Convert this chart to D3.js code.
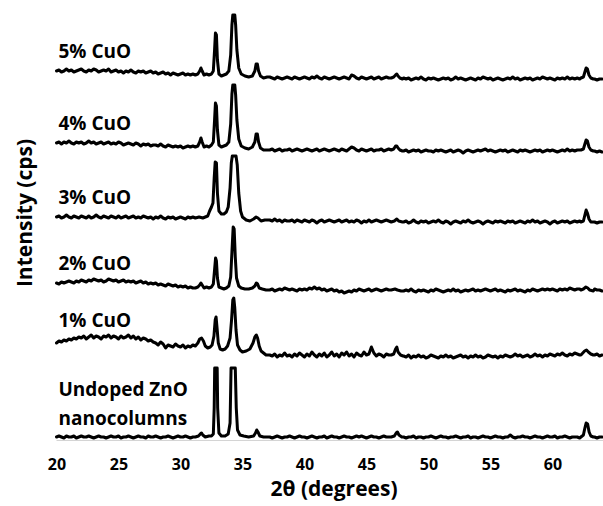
<!DOCTYPE html>
<html>
<head>
<meta charset="utf-8">
<script src="https://cdn.jsdelivr.net/npm/d3@7/dist/d3.min.js"></script>
<style>
  html, body { margin: 0; padding: 0; background: #fff; }
  svg { display: block; }
  text { font-family: "Open Sans", "Noto Sans", sans-serif; font-weight: 700; fill: #000; }
</style>
</head>
<body>
<div id="chart"></div>
<script>
// ---- Data -------------------------------------------------------------
// XRD scans of ZnO nanocolumns with increasing CuO content.
// Counts are in arbitrary units relative to each scan's own baseline;
// the scans are stacked vertically by an offset.

const sampleNames = ["Undoped ZnO|nanocolumns", "1% CuO", "2% CuO", "3% CuO", "4% CuO", "5% CuO"];
const stackOffsets = [2, 82, 148, 217, 288, 360];

// Background counts, recorded in segments at a 0.2° step: [start 2θ, counts]
const scanStep = 0.2;

const bgUndoped = [
  [20.0, [1,2,1,0,2,1,1,2,0,1, 2,1,1,2,1,0,1,2,1,1, 0,1,2,1,1,2,0,1,1,2, 1,0,1,2,1,1,0,2,1,1, 2,1,0,1,1,2,1,0,1,2, 1,1,2,1,0,1]],
  [37.2, [1,0,1,2,1,0,1,1,2,1, 0,1,2,1,1,0,1,2,1,0, 1,1,2,0,1,2,1,1,0,1, 2,1,1,0,1,2,1,2,1,0, 1,2,1,1,0,1,2,1,1]],
  [48.0, [1,0,1,1,2,0,1,1,0,1, 1,2,1,0,1,2,1,1,0,1, 1,2,1,0,1,1,2,0,1,1, 0,1,2,1,1,0,1,2,1,1, 0,1,1,3,1,0,1,1,2,1, 1,0,1,2,1,1,0,1,2,1, 1,2,0,1,1,2,1,0,1,1, 1,0]],
  [63.4, [1,0,1,1]]
];
const bgCu1 = [
  [20.0, [15,17,16,18,17,19,18,20,19,21, 20,22,19,21,23,20,22,21,19,22, 21,23,20,22,21,19,22,20,21,23, 20,22,19,21,18,20,19,17,18,16, 15,13,16,14,10,13,12,11,14,12, 11,13,10,12,11,13]],
  [37.2, [3,2,4,1,3,2,5,2,3,1, 4,2,5,3,1,4,2,6,3,1, 4,2,5,1,3,6,2,4,1,5, 3,6,2,4,1,5,3,2,6,3, 4,11,5,2,4,3,1,4,3]],
  [48.0, [2,1,3,0,2,1,3,1,2,0, 1,3,2,1,0,2,1,3,1,2, 0,1,2,3,1,2,0,2,1,3, 1,2,0,1,3,2,1,2,0,2, 1,3,2,1,2,4,2,3,1,2, 3,1,2,4,2,3,1,3,2,4, 3,2,4,3,5,3,2,4,3,5, 4,3]],
  [63.4, [3,4,2,3]]
];
const bgCu2 = [
  [20.0, [9,8,10,9,10,11,10,9,11,10, 12,11,10,12,11,13,12,11,12,10, 11,13,12,11,12,10,11,12,10,11, 10,11,9,10,11,9,10,8,9,8, 9,7,8,7,6,8,7,6,7,5, 6,5,6,4,5,4]],
  [37.2, [2,3,1,2,3,2,4,3,2,3, 2,1,3,2,3,2,4,3,5,3, 4,2,3,1,2,3,1,2,0,1, -1,0,1,0,2,1,3,2,1,2, 3,1,2,3,2,1,2,3,2]],
  [48.0, [1,2,1,3,1,0,2,1,2,1, 0,2,1,3,2,1,0,1,2,1, 3,1,2,0,1,2,1,2,3,1, 2,1,2,3,2,1,2,3,1,2, 1,0,2,1,2,3,1,2,1,0, 2,1,3,2,1,2,3,2,3,2, 3,2,1,3,2,3,2,4,3,2, 3,3]],
  [63.4, [3,2,2,1]]
];
const bgCu3 = [
  [20.0, [6,7,5,6,8,6,5,7,6,5, 7,6,5,7,5,6,8,6,5,7, 6,5,7,6,5,7,5,6,7,5, 6,7,5,6,5,7,6,5,6,4, 6,5,7,5,4,6,5,6,4,5, 6,5,4,6,5,6]],
  [37.2, [3,2,4,2,3,1,3,2,2,3, 1,3,2,1,3,2,1,3,2,0, 2,3,1,2,3,2,1,2,3,1, 2,3,1,2,1,3,2,0,2,1, 3,1,2,3,2,1,2,3,2]],
  [48.0, [1,2,0,1,3,1,0,2,1,2, 0,1,2,1,3,1,0,2,1,-1, 1,2,1,0,2,1,3,1,0,1, 2,1,-1,1,2,1,0,2,1,2, 1,0,2,1,2,0,1,2,1,0, 2,1,3,1,2,0,1,2,1,-1, 1,2,0,1,2,1,2,0,1,2, 1,2]],
  [63.4, [1,0,1,1]]
];
const bgCu4 = [
  [20.0, [9,10,8,10,9,11,9,8,10,9, 10,8,9,11,9,10,8,9,10,8, 9,10,8,9,8,10,9,7,8,9, 8,7,9,8,6,8,7,8,6,7, 7,6,8,6,5,7,6,5,6,5, 6,4,5,6,5,6]],
  [37.2, [2,3,1,2,3,1,2,2,3,1, 2,3,2,1,2,3,2,1,2,3, 1,2,3,2,1,2,3,2,1,3, 2,1,3,5,4,2,1,3,2,1, 2,3,1,2,2,3,1,2,3]],
  [48.0, [1,2,0,1,2,1,2,0,1,2, 1,1,0,2,1,2,1,0,1,2, 0,1,2,1,-1,1,2,1,0,1, 2,1,2,3,1,2,1,0,1,2, 1,2,0,1,2,1,0,2,1,2, 1,0,1,2,1,2,0,1,2,1, 2,1,0,1,2,1,3,1,2,1, 2,2]],
  [63.4, [1,0,1,0]]
];
const bgCu5 = [
  [20.0, [9,10,8,9,11,9,10,8,9,10, 11,9,8,10,9,11,10,8,9,10, 9,11,8,9,10,8,9,7,9,8, 10,8,7,9,8,9,7,8,9,7, 8,6,7,8,6,7,5,7,6,5, 6,7,5,6,5,6]],
  [37.2, [3,2,1,3,2,1,2,3,2,1, 3,2,1,2,3,2,1,3,2,4, 2,1,3,2,1,2,3,2,1,2, 3,2,1,5,4,2,1,3,2,1, 2,3,1,2,3,1,2,3,2]],
  [48.0, [2,1,2,0,1,2,1,3,1,0, 2,1,2,1,0,1,2,1,2,0, 1,3,1,2,1,0,1,2,1,0, 2,1,3,2,1,2,0,1,2,1, 0,1,2,1,3,1,2,0,1,2, 1,2,0,1,2,1,3,2,1,2, 1,0,2,1,2,1,3,1,2,1, 2,1]],
  [63.4, [1,0,1,1]]
];

// Finely sampled reflection profiles: [2θ, counts]
const peaksUndoped = [
  [[31.2,1],[31.45,2],[31.6,4],[31.7,5],[31.8,3],[32.0,1],[32.3,2],[32.5,2],[32.65,4],[32.72,30],[32.76,70],[32.96,70],[33.0,30],[33.1,5],[33.3,2],[33.6,2],[33.85,4],[34.0,15],[34.08,70],[34.42,70],[34.5,30],[34.6,8],[34.8,3],[35.1,2],[35.5,1],[35.9,2],[36.05,5],[36.15,8],[36.25,6],[36.4,2],[36.7,1],[37.0,1]],
  [[47.0,1],[47.25,2],[47.4,5],[47.5,6],[47.62,3],[47.85,1]],
  [[62.3,1],[62.5,3],[62.62,10],[62.72,15],[62.84,14],[62.96,6],[63.1,2],[63.3,1]]
];
const peaksCu1 = [
  [[31.2,12],[31.4,15],[31.55,19],[31.7,20],[31.85,17],[32.0,12],[32.2,10],[32.4,11],[32.55,13],[32.7,22],[32.8,38],[32.87,41],[32.95,30],[33.05,15],[33.2,9],[33.4,8],[33.6,9],[33.8,12],[34.0,20],[34.12,38],[34.22,58],[34.3,60],[34.38,50],[34.48,28],[34.6,13],[34.8,8],[35.0,6],[35.3,7],[35.6,9],[35.85,15],[36.0,21],[36.12,23],[36.22,20],[36.35,12],[36.5,7],[36.7,5],[36.9,3]],
  [[47.0,3],[47.2,4],[47.35,9],[47.45,11],[47.55,6],[47.75,3],[47.95,2]],
  [[62.3,3],[62.45,5],[62.6,7],[62.75,8],[62.9,6],[63.1,4],[63.3,3]]
];
const peaksCu2 = [
  [[31.2,4],[31.4,5],[31.55,7],[31.65,9],[31.75,7],[31.9,4],[32.1,5],[32.3,4],[32.5,5],[32.65,8],[32.75,22],[32.83,34],[32.9,31],[32.98,14],[33.1,5],[33.3,4],[33.5,3],[33.7,4],[33.9,6],[34.05,15],[34.15,40],[34.25,65],[34.33,63],[34.42,35],[34.52,14],[34.7,6],[34.9,4],[35.2,3],[35.5,3],[35.8,4],[36.0,6],[36.12,9],[36.22,8],[36.35,4],[36.6,3],[36.9,2]],
  [[47.0,2],[47.3,3],[47.5,2],[47.8,1]],
  [[62.3,2],[62.5,3],[62.7,5],[62.85,4],[63.0,2],[63.3,1]]
];
const peaksCu3 = [
  [[31.2,5],[31.5,6],[31.8,5],[32.0,6],[32.2,7],[32.35,12],[32.5,16],[32.62,20],[32.72,45],[32.8,61],[32.9,60],[32.98,30],[33.1,12],[33.3,9],[33.5,9],[33.7,11],[33.85,16],[34.0,35],[34.1,60],[34.18,67],[34.48,67],[34.58,58],[34.7,30],[34.85,12],[35.0,6],[35.3,3],[35.6,2],[35.9,4],[36.1,6],[36.25,5],[36.5,2],[36.8,3]],
  [[47.0,1],[47.25,2],[47.45,4],[47.6,2],[47.9,1]],
  [[62.3,1],[62.5,2],[62.62,8],[62.72,13],[62.82,10],[62.95,4],[63.1,1],[63.3,1]]
];
const peaksCu4 = [
  [[31.2,5],[31.4,6],[31.55,10],[31.65,14],[31.75,10],[31.9,5],[32.1,6],[32.3,5],[32.5,7],[32.65,10],[32.75,32],[32.82,49],[32.9,46],[32.98,22],[33.1,7],[33.3,5],[33.5,6],[33.7,7],[33.9,10],[34.05,28],[34.15,58],[34.22,67],[34.38,67],[34.45,57],[34.55,32],[34.7,13],[34.9,6],[35.2,4],[35.5,3],[35.8,5],[36.0,10],[36.1,18],[36.2,18],[36.3,10],[36.45,4],[36.7,2],[37.0,2]],
  [[47.0,2],[47.2,3],[47.35,6],[47.45,6],[47.55,4],[47.7,2],[47.9,1]],
  [[62.3,2],[62.5,3],[62.62,8],[62.72,12],[62.82,11],[62.95,5],[63.1,2],[63.3,1]]
];
const peaksCu5 = [
  [[31.2,5],[31.4,6],[31.55,9],[31.65,12],[31.75,9],[31.9,5],[32.1,6],[32.3,5],[32.5,6],[32.65,9],[32.75,30],[32.82,47],[32.9,45],[32.98,20],[33.1,6],[33.3,4],[33.5,5],[33.7,6],[33.9,9],[34.05,25],[34.15,55],[34.22,65],[34.38,65],[34.45,55],[34.55,30],[34.7,12],[34.9,6],[35.2,4],[35.5,3],[35.8,4],[36.0,9],[36.1,16],[36.2,16],[36.3,9],[36.45,4],[36.7,2],[37.0,3]],
  [[47.0,2],[47.2,3],[47.35,5],[47.45,6],[47.55,4],[47.7,2],[47.9,1]],
  [[62.3,2],[62.5,3],[62.62,8],[62.72,12],[62.82,11],[62.95,5],[63.1,2],[63.3,1]]
];

const backgrounds = [bgUndoped, bgCu1, bgCu2, bgCu3, bgCu4, bgCu5];
const reflections = [peaksUndoped, peaksCu1, peaksCu2, peaksCu3, peaksCu4, peaksCu5];

const xTicks = [20, 25, 30, 35, 40, 45, 50, 55, 60];
const xDomain = [20, 64];

// ---- Layout -----------------------------------------------------------
const W = 603, H = 506;
const plot = { left: 56.5, right: 602, top: 5, bottom: 440 };

const svg = d3.select("#chart").append("svg")
  .attr("width", W).attr("height", H);

const x = d3.scaleLinear().domain(xDomain).range([plot.left, plot.right]);
const y = d3.scaleLinear().domain([0, plot.bottom - plot.top]).range([plot.bottom, plot.top]);

// Join background segments and reflection profiles into one ordered scan
function buildScan(segments, peaks) {
  const pts = [];
  segments.forEach(([start, vals]) => {
    vals.forEach((v, i) => pts.push([+(start + i * scanStep).toFixed(2), v]));
  });
  peaks.forEach(p => p.forEach(d => pts.push(d)));
  return pts.sort((a, b) => a[0] - b[0]);
}

// Faint baseline axis
svg.append("line")
  .attr("x1", x(20)).attr("x2", plot.right + 1)
  .attr("y1", plot.bottom + 0.5).attr("y2", plot.bottom + 0.5)
  .attr("stroke", "#d4d4d4").attr("stroke-width", 1);

// X axis tick labels (no tick marks)
const xAxis = d3.axisBottom(x).tickValues(xTicks).tickSize(0).tickPadding(0).tickFormat(d3.format("d"));
const gx = svg.append("g").attr("transform", `translate(0,${plot.bottom})`).call(xAxis);
gx.select(".domain").remove();
gx.selectAll("text")
  .attr("dy", null).attr("y", 30)
  .style("font-family", '"Open Sans", sans-serif')
  .style("font-weight", 700)
  .style("font-size", "16px")
  .attr("fill", "#000");

// Axis titles
svg.append("text")
  .attr("x", 334).attr("y", 496)
  .attr("text-anchor", "middle")
  .style("font-size", "21px")
  .text("2θ (degrees)");

svg.append("text")
  .attr("transform", "translate(32,213) rotate(-90)")
  .attr("text-anchor", "middle")
  .style("font-size", "21px")
  .text("Intensity (cps)");

// Stacked diffraction patterns
const line = d3.line()
  .x(d => x(d[0]))
  .y(d => d[1]);

sampleNames.forEach((name, k) => {
  const off = stackOffsets[k];
  const pts = buildScan(backgrounds[k], reflections[k]);
  svg.append("path")
    .datum(pts.map(d => [d[0], y(off + d[1])]))
    .attr("fill", "none")
    .attr("stroke", "#000")
    .attr("stroke-width", 3)
    .attr("stroke-linejoin", "round")
    .attr("stroke-linecap", "round")
    .attr("d", line);

  // Sample label just above the left end of the scan
  const lead = d3.max(backgrounds[k][0][1].slice(0, 8));
  const baseY = y(off + lead) - 11;
  const lines = name.split("|");
  const t = svg.append("text")
    .attr("x", x(20) + 2)
    .style("font-size", "19px");
  lines.forEach((s, j) => {
    t.append("tspan")
      .attr("x", x(20) + 2)
      .attr("y", baseY - (lines.length - 1 - j) * 29)
      .text(s);
  });
});
</script>
</body>
</html>
